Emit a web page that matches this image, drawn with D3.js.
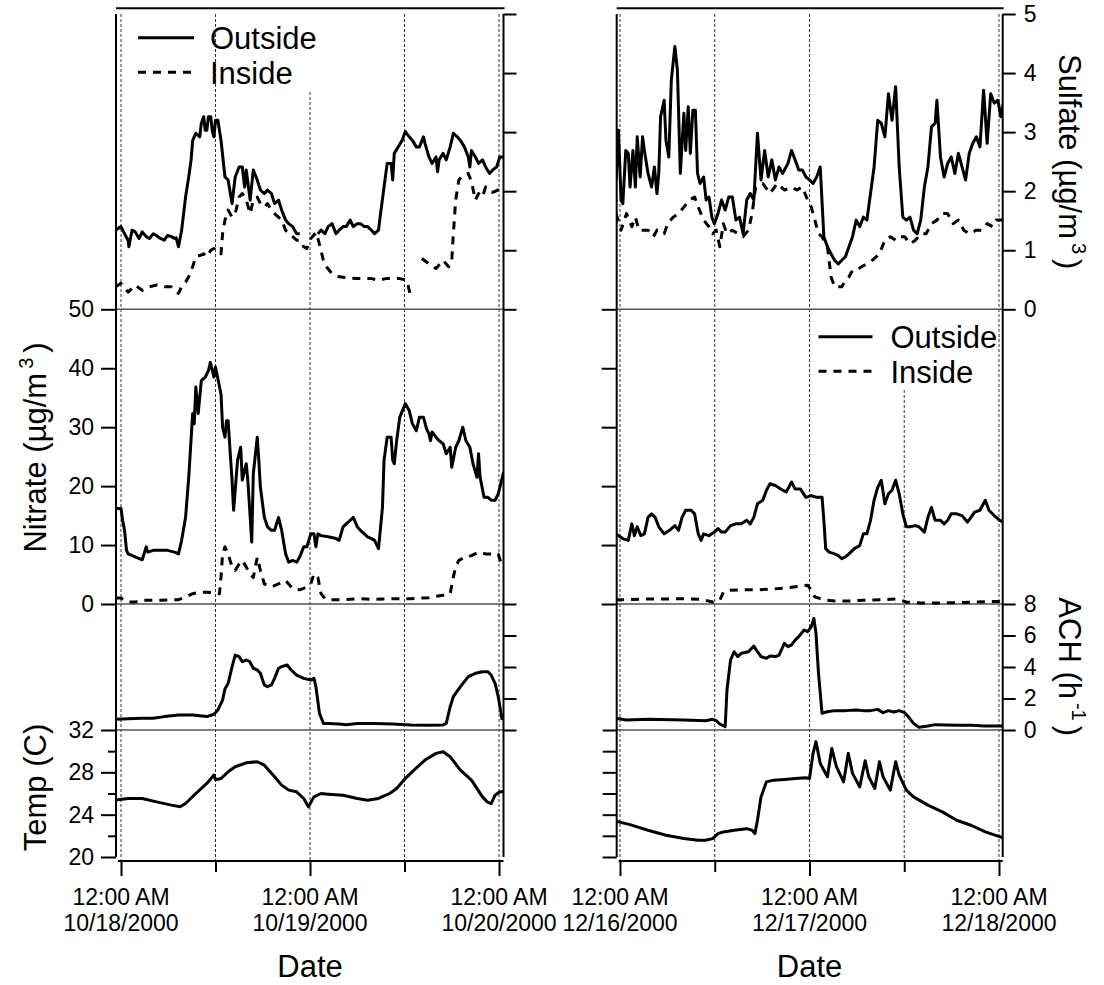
<!DOCTYPE html>
<html>
<head>
<meta charset="utf-8">
<script src="https://cdn.jsdelivr.net/npm/d3@7"></script>
<style>
  body { margin: 0; background: #fff; }
  text { font-family: "Liberation Sans", Arial, sans-serif; fill: #000; }
</style>
</head>
<body>
<svg width="1104" height="985"></svg>
<script>
const FONT = "Liberation Sans, Arial, sans-serif";

// first midnight of each period
const octStart = new Date(2000, 9, 18);
const decStart = new Date(2000, 11, 16);

// [hours after first midnight, value]; null marks a gap
const octSulfateOut = [[-0.7,1.34],[0,1.40],[0.45,1.28],[0.9,1.17],[1.0,1.06],[1.4,1.34],[1.8,1.31],[2.3,1.20],[2.7,1.31],[3.2,1.23],[3.6,1.20],[4.1,1.28],[4.5,1.25],[5.0,1.20],[5.5,1.17],[5.9,1.25],[6.4,1.23],[6.8,1.20],[7.0,1.21],[7.3,1.06],[7.7,1.34],[8.2,1.90],[8.6,2.24],[8.9,2.53],[9.1,2.86],[9.5,2.98],[10.0,2.92],[10.2,3.15],[10.5,3.26],[10.7,3.03],[10.9,3.03],[11.1,3.26],[11.4,3.26],[11.6,3.01],[11.8,2.92],[12.0,3.20],[12.3,3.20],[12.7,2.86],[13.2,2.24],[13.6,2.19],[14.1,1.79],[14.5,2.24],[15.0,2.41],[15.4,2.41],[15.7,2.07],[15.9,2.36],[16.4,1.85],[16.8,2.36],[17.3,2.19],[17.7,2.02],[18.2,1.96],[18.6,2.02],[19.1,1.96],[19.5,1.79],[20.0,1.85],[20.4,1.68],[20.9,1.51],[21.3,1.45],[21.8,1.40],[22.3,1.28],[22.7,1.28],[23.0,null],[25.0,1.28],[25.4,1.34],[25.9,1.28],[26.3,1.40],[26.8,1.45],[27.3,1.28],[27.7,1.34],[28.2,1.40],[28.6,1.40],[29.1,1.51],[29.5,1.40],[30.0,1.45],[30.4,1.45],[30.9,1.40],[31.3,1.40],[31.8,1.34],[32.2,1.28],[32.7,1.34],[32.9,1.56],[33.4,2.07],[33.8,2.47],[34.3,2.47],[34.5,2.19],[34.7,2.64],[35.2,2.75],[35.7,2.86],[36.1,3.01],[36.6,2.92],[37.0,2.86],[37.5,2.75],[37.9,2.75],[38.4,2.92],[38.6,2.81],[39.1,2.58],[39.5,2.47],[40.0,2.58],[40.2,2.33],[40.4,2.53],[40.9,2.64],[41.3,2.53],[41.8,2.75],[42.2,2.98],[42.7,2.92],[43.1,2.86],[43.6,2.75],[44.1,2.58],[44.3,2.41],[44.5,2.69],[45.0,2.58],[45.4,2.47],[45.9,2.53],[46.3,2.41],[46.8,2.30],[47.2,2.36],[47.7,2.41],[48.1,2.58],[48.6,2.58]];
const octSulfateIn = [[-0.7,0.38],[0,0.44],[0.9,0.29],[1.8,0.41],[2.7,0.32],[3.6,0.38],[4.5,0.41],[5.5,0.38],[6.4,0.38],[7.3,0.27],[7.7,0.38],[8.2,0.46],[8.6,0.55],[9.1,0.72],[9.5,0.89],[10.0,0.91],[10.5,0.94],[10.9,0.89],[11.4,1.0],[11.8,1.03],[12.3,0.94],[12.7,0.94],[12.9,1.28],[13.2,1.51],[13.6,1.68],[14.1,1.56],[14.5,1.62],[15.0,1.90],[15.4,1.96],[15.9,1.85],[16.4,1.62],[16.8,1.85],[17.3,1.90],[17.7,1.79],[18.2,1.73],[18.6,1.79],[19.1,1.68],[19.5,1.62],[20.0,1.56],[20.4,1.51],[20.9,1.34],[21.3,1.28],[21.8,1.23],[22.3,1.17],[22.7,1.17],[23.2,1.06],[23.6,1.03],[24.1,1.20],[24.8,1.30],[25.2,1.10],[25.7,0.83],[26.1,0.72],[26.8,0.60],[27.7,0.55],[29.1,0.53],[30.0,0.52],[30.9,0.52],[31.8,0.52],[32.7,0.49],[33.6,0.52],[34.5,0.52],[35.4,0.52],[36.3,0.49],[36.8,0.21],[37.5,null],[38.2,0.86],[39.1,0.77],[40.0,0.69],[40.9,0.83],[41.6,0.72],[42.0,0.83],[42.2,1.28],[42.5,1.85],[42.9,2.19],[43.4,2.27],[44.1,2.30],[44.5,2.16],[45.0,1.85],[45.4,1.96],[45.9,1.90],[46.3,2.07],[46.8,2.00],[47.2,1.98],[47.9,2.02],[48.6,1.96]];
const octNitrateOut = [[-0.7,16.2],[0,16.2],[0.2,14.2],[0.45,12.5],[0.7,9.1],[0.9,8.5],[1.8,8.0],[2.7,7.5],[3.2,9.7],[3.4,8.8],[4.1,9.1],[5.0,9.1],[5.9,9.1],[6.8,8.8],[7.3,8.5],[7.7,10.8],[8.2,14.7],[8.6,21.5],[9.1,32.3],[9.3,30.6],[9.5,36.8],[9.8,32.3],[10.0,35.1],[10.2,37.9],[10.7,38.5],[11.1,39.6],[11.35,41.0],[11.8,38.5],[12.0,40.2],[12.35,37.9],[12.7,35.6],[12.9,30.0],[13.2,28.3],[13.4,31.1],[13.6,31.1],[13.85,26.0],[14.1,21.0],[14.3,15.9],[14.8,24.4],[15.2,26.6],[15.4,21.0],[15.9,23.8],[16.1,21.0],[16.35,15.9],[16.6,10.5],[16.8,22.1],[17.3,28.3],[17.5,24.4],[17.7,19.8],[18.2,14.7],[18.6,13.1],[19.1,12.5],[19.5,12.5],[20.0,14.7],[20.4,12.5],[20.9,8.5],[21.3,7.1],[21.8,7.4],[22.3,7.1],[22.7,8.0],[23.2,9.7],[23.6,9.7],[24.1,11.9],[24.5,11.9],[24.75,9.7],[25.0,11.9],[25.4,11.6],[26.3,11.4],[27.3,11.1],[27.7,10.8],[28.2,13.1],[28.6,13.6],[29.1,14.2],[29.5,14.7],[30.0,13.1],[30.4,12.5],[30.9,11.9],[31.3,11.4],[31.8,11.1],[32.2,10.8],[32.7,9.4],[33.2,16.4],[33.4,24.4],[33.8,28.3],[34.3,28.3],[34.5,24.4],[34.7,23.8],[35.0,27.7],[35.4,31.7],[36.1,34.0],[36.6,32.8],[37.0,30.6],[37.5,29.4],[37.9,31.7],[38.4,31.7],[38.8,29.7],[39.1,28.9],[39.3,27.7],[39.5,29.2],[40.0,28.3],[40.4,27.7],[40.9,27.2],[41.3,25.5],[41.8,26.6],[42.0,23.2],[42.5,26.6],[42.9,27.7],[43.4,30.0],[43.8,27.7],[44.3,26.6],[44.7,23.8],[45.2,21.5],[45.4,25.5],[45.6,21.5],[46.1,18.1],[46.6,18.1],[47.0,17.6],[47.5,17.6],[47.9,18.7],[48.6,22.4]];
const octNitrateIn = [[-0.7,1.0],[0,1.0],[0.9,0.34],[1.8,0.34],[2.7,0.62],[5.0,0.62],[7.3,0.73],[8.2,1.2],[9.1,1.75],[10.0,2.0],[10.9,2.0],[11.8,1.9],[12.5,1.75],[12.7,4.6],[12.9,8.5],[13.2,9.7],[13.6,8.5],[14.1,6.3],[14.5,5.7],[15.0,6.8],[15.4,7.4],[15.9,6.3],[16.35,5.1],[16.8,4.5],[17.3,7.9],[17.7,5.7],[18.2,3.4],[19.1,2.9],[20.0,3.4],[20.9,4.0],[21.3,3.4],[21.8,2.6],[22.7,2.4],[23.6,2.9],[24.1,3.4],[24.5,5.1],[25.0,4.5],[25.4,1.75],[25.9,0.9],[26.3,0.73],[28.2,0.73],[30.0,0.9],[32.2,0.79],[34.5,0.9],[36.8,0.9],[39.1,1.08],[40.9,1.5],[41.8,1.75],[42.2,4.6],[42.5,6.3],[42.9,7.4],[43.6,7.9],[44.5,8.2],[45.4,8.8],[46.3,8.5],[47.0,8.5],[47.9,8.5],[48.4,6.3]];
const octAch = [[-0.7,0.68],[0.9,0.72],[2.7,0.74],[4.1,0.74],[5.5,0.85],[7.3,0.95],[9.1,0.95],[10.9,0.85],[11.8,1.0],[12.3,1.27],[12.9,1.9],[13.2,2.6],[13.6,2.96],[14.1,4.0],[14.5,4.76],[15.0,4.66],[15.4,4.34],[15.9,4.44],[16.35,4.34],[16.8,3.92],[17.3,3.81],[17.7,3.6],[18.2,2.86],[18.6,2.75],[19.1,2.86],[19.5,3.28],[20.0,3.92],[20.4,4.02],[21.1,4.13],[21.6,3.81],[22.3,3.49],[23.2,3.28],[24.1,3.17],[24.5,3.28],[24.75,2.75],[25.2,1.06],[25.7,0.42],[26.3,0.42],[27.7,0.38],[28.6,0.34],[30.0,0.42],[32.2,0.42],[34.5,0.38],[36.8,0.32],[39.1,0.30],[40.9,0.32],[41.3,0.42],[41.8,1.48],[42.2,2.12],[43.1,2.75],[44.1,3.39],[45.0,3.6],[45.9,3.7],[46.6,3.7],[47.0,3.49],[47.5,2.96],[47.9,2.12],[48.4,0.63]];
const octTemp = [[-0.7,25.37],[0.9,25.53],[2.7,25.53],[4.5,25.21],[6.4,24.9],[7.5,24.74],[8.2,25.05],[9.5,26.0],[10.9,26.95],[11.8,27.74],[12.0,27.3],[12.7,27.42],[13.6,28.05],[14.5,28.53],[15.9,28.9],[17.3,29.0],[18.2,28.68],[19.5,27.58],[20.4,26.79],[21.3,26.32],[22.3,26.16],[23.2,25.53],[23.8,24.74],[24.5,25.68],[25.4,26.0],[26.3,25.94],[28.2,25.84],[30.0,25.53],[31.3,25.37],[32.7,25.53],[34.1,26.0],[35.0,26.47],[35.9,27.26],[37.2,28.21],[38.6,29.16],[40.0,29.79],[40.9,29.95],[41.8,29.47],[43.1,28.21],[44.5,27.26],[45.9,25.68],[46.5,25.21],[47.0,25.05],[47.5,25.84],[48.1,26.16],[48.6,26.16]];

const decSulfateOut = [[-0.5,2.19],[-0.2,3.03],[0.14,1.85],[0.36,1.79],[0.73,2.69],[1.05,2.64],[1.27,2.07],[1.64,2.69],[1.95,2.07],[2.18,2.92],[2.55,2.24],[2.86,2.92],[3.09,2.69],[3.55,2.30],[4.0,2.07],[4.36,2.41],[4.68,1.96],[4.91,2.30],[5.14,3.26],[5.59,3.54],[5.82,2.86],[6.18,2.58],[6.5,3.88],[6.95,4.45],[7.27,4.05],[7.64,2.30],[8.09,3.32],[8.32,2.69],[8.64,3.43],[8.91,2.64],[9.23,3.37],[9.55,3.37],[9.82,2.30],[10.14,2.13],[10.59,2.24],[10.91,1.85],[11.27,1.90],[11.64,1.56],[11.95,1.45],[12.41,1.62],[12.86,1.85],[13.32,1.68],[13.77,1.90],[14.23,1.90],[14.68,1.51],[15.14,1.56],[15.59,1.28],[16.05,1.85],[16.5,1.96],[16.95,1.85],[17.41,2.98],[17.86,2.19],[18.32,2.69],[18.77,2.24],[19.23,2.53],[19.68,2.19],[20.14,2.41],[20.59,2.30],[21.27,2.47],[21.73,2.69],[22.18,2.53],[22.64,2.36],[23.09,2.36],[23.55,2.24],[24.0,2.19],[24.45,2.13],[24.91,2.24],[25.36,2.41],[25.82,1.23],[26.27,1.06],[26.73,0.94],[27.18,0.83],[27.64,0.77],[28.09,0.83],[28.55,0.89],[29.0,1.06],[29.45,1.23],[29.91,1.51],[30.36,1.40],[30.82,1.56],[31.27,1.51],[31.73,1.96],[32.18,2.41],[32.64,3.2],[33.09,3.15],[33.55,2.92],[34.0,3.65],[34.45,3.2],[34.91,3.77],[35.36,2.41],[35.82,1.56],[36.27,1.51],[36.73,1.56],[37.18,1.34],[37.64,1.28],[38.09,1.51],[38.55,2.07],[39.0,2.41],[39.45,3.09],[39.91,3.15],[40.14,3.54],[40.59,2.58],[41.05,2.24],[41.5,2.47],[41.95,2.58],[42.41,2.30],[42.86,2.64],[43.32,2.41],[43.77,2.19],[44.23,2.64],[44.68,2.81],[45.14,2.92],[45.59,2.75],[46.05,3.71],[46.5,2.81],[46.95,3.65],[47.41,3.49],[47.86,3.54],[48.23,3.26],[48.55,3.49]];
const decSulfateIn = [[-0.5,1.62],[0.14,1.34],[0.82,1.62],[1.5,1.40],[1.95,1.56],[2.41,1.34],[3.09,1.34],[3.55,1.34],[4.23,1.23],[4.68,1.34],[5.59,1.28],[6.05,1.45],[6.73,1.56],[7.41,1.62],[8.09,1.73],[8.77,1.85],[9.45,1.90],[9.91,1.73],[10.59,1.51],[11.27,1.40],[11.73,1.28],[12.18,1.34],[12.64,1.06],[13.09,1.45],[13.55,1.28],[14.23,1.34],[14.91,1.28],[15.59,1.23],[16.27,1.34],[16.73,1.62],[17.18,2.07],[18.09,2.13],[19.0,1.96],[19.91,2.13],[20.82,2.02],[21.73,2.07],[22.41,2.02],[23.09,2.07],[23.77,1.85],[24.23,1.73],[24.68,1.51],[25.14,1.28],[25.59,1.23],[26.27,1.06],[26.73,0.55],[27.18,0.38],[27.64,0.38],[28.09,0.38],[28.55,0.49],[29.0,0.55],[29.45,0.66],[29.91,0.66],[30.59,0.72],[31.27,0.77],[31.95,0.83],[32.86,0.94],[33.55,1.17],[34.23,1.23],[34.91,1.17],[35.36,1.23],[36.05,1.23],[36.73,1.11],[37.41,1.17],[38.09,1.28],[38.77,1.28],[39.45,1.45],[40.14,1.51],[40.82,1.62],[41.5,1.62],[42.18,1.45],[42.86,1.51],[43.55,1.34],[44.23,1.28],[45.14,1.34],[45.82,1.34],[46.5,1.45],[47.18,1.40],[47.64,1.51],[48.55,1.51]];
const decNitrateOut = [[-0.5,11.9],[0.36,11.1],[1.05,10.8],[1.5,13.6],[1.82,11.6],[2.18,13.1],[2.64,11.6],[3.09,11.9],[3.55,14.7],[4.0,15.3],[4.45,14.7],[4.91,13.1],[5.59,11.9],[6.27,12.5],[6.95,13.3],[7.41,12.5],[7.86,14.7],[8.32,15.9],[9.0,15.9],[9.45,15.3],[9.91,11.9],[10.27,10.8],[10.59,11.9],[11.27,11.6],[11.95,12.2],[12.41,12.8],[12.86,12.2],[13.32,12.2],[14.0,13.3],[14.68,13.6],[15.36,13.6],[16.05,14.2],[16.5,13.6],[16.95,14.7],[17.41,17.0],[18.09,17.6],[18.55,19.3],[19.0,20.4],[19.68,20.1],[20.36,19.5],[21.05,19.0],[21.73,20.7],[22.18,19.5],[22.86,19.5],[23.55,18.1],[24.23,18.4],[24.91,18.1],[25.59,18.1],[25.82,14.2],[26.05,9.4],[26.5,8.8],[27.18,8.5],[27.64,8.2],[28.09,7.7],[28.55,8.0],[29.0,8.5],[29.68,9.4],[30.36,9.9],[30.82,11.9],[31.27,11.9],[31.73,14.2],[32.18,17.6],[32.64,19.8],[33.09,21.0],[33.55,17.0],[34.0,18.7],[34.45,19.3],[34.91,21.0],[35.36,18.7],[35.82,15.3],[36.27,13.1],[36.73,13.1],[37.41,13.3],[37.86,13.1],[38.55,12.2],[39.0,14.7],[39.45,16.4],[39.91,14.2],[40.59,14.2],[41.05,13.6],[41.5,14.2],[41.95,15.3],[42.64,15.3],[43.32,15.0],[44.0,13.9],[44.45,14.7],[44.91,15.6],[45.59,15.9],[46.27,17.6],[46.73,15.9],[47.41,15.0],[48.09,14.2],[48.55,13.9]];
const decNitrateIn = [[-0.5,0.73],[0.82,0.73],[3.55,0.85],[5.82,0.85],[8.09,0.9],[10.36,0.79],[11.73,0.34],[12.64,0.62],[13.09,2.0],[13.55,2.3],[15.36,2.4],[17.18,2.4],[19.0,2.5],[20.82,2.7],[22.64,3.0],[23.77,3.2],[24.23,2.3],[24.68,1.2],[25.36,0.9],[26.27,0.62],[27.18,0.51],[29.0,0.51],[30.82,0.62],[33.09,0.73],[34.91,0.85],[35.36,0.73],[36.27,0.34],[38.09,0.17],[39.91,0.17],[42.18,0.23],[44.45,0.28],[46.73,0.4],[48.55,0.45]];
const decAch = [[-0.5,0.74],[0.82,0.63],[3.55,0.68],[8.09,0.63],[10.82,0.59],[11.73,0.68],[12.18,0.59],[12.64,0.38],[13.32,0.21],[13.55,2.54],[14.0,4.44],[14.45,4.97],[14.91,4.66],[15.36,4.87],[15.82,4.92],[16.27,4.97],[16.95,5.33],[17.41,4.97],[17.86,4.66],[18.55,4.55],[19.0,4.7],[19.68,4.66],[20.14,4.76],[20.82,5.5],[21.27,5.29],[21.73,5.4],[22.18,5.71],[22.64,5.93],[23.32,6.35],[23.77,6.24],[24.23,6.56],[24.55,7.09],[24.82,6.14],[25.14,3.6],[25.59,1.06],[26.27,1.16],[27.18,1.23],[28.55,1.23],[29.91,1.27],[30.82,1.23],[31.73,1.23],[32.64,1.31],[33.32,1.1],[34.0,1.23],[34.68,1.14],[35.36,1.23],[36.05,1.1],[36.5,0.85],[37.18,0.42],[37.86,0.17],[39.0,0.25],[39.91,0.34],[41.27,0.32],[42.64,0.3],[44.45,0.3],[46.27,0.25],[48.55,0.25]];
const decTemp = [[-0.5,23.38],[1.27,23.06],[3.55,22.53],[5.82,22.05],[8.09,21.74],[9.91,21.58],[10.82,21.58],[11.73,21.74],[12.41,22.21],[13.09,22.37],[14.45,22.53],[16.05,22.68],[16.73,22.53],[17.09,22.21],[17.41,23.47],[17.86,25.68],[18.55,27.1],[19.45,27.26],[20.82,27.33],[22.18,27.42],[23.55,27.48],[24.0,27.42],[24.45,29.79],[24.82,30.9],[25.36,28.84],[26.27,27.58],[26.82,30.26],[27.41,28.53],[28.32,27.1],[28.91,29.79],[29.45,27.9],[30.36,26.63],[31.05,29.1],[31.5,27.58],[32.27,26.47],[32.86,29.0],[33.32,27.58],[34.23,26.32],[34.91,29.0],[35.36,27.74],[36.27,26.32],[37.18,25.68],[39.0,24.9],[40.82,24.26],[42.64,23.47],[44.45,23.0],[46.27,22.37],[48.55,21.8]];

const seriesNames = ["Outside", "Inside"];
const gridHours = [0, 12, 24, 36, 48];
const labelHours = [0, 24, 48];

// vertical layout of the stacked panels
const panels = {
  sulfate: { domain: [0, 5], range: [309.3, 14] },
  nitrate: { domain: [0, 50], range: [604, 309.3] },
  ach: { domain: [0, 8], range: [730, 604] },
  temp: { domain: [20, 32], range: [857, 730] }
};
const yTop = 14, yBottom = 857, xAxisY = 861;

const cols = [
  { start: octStart, hours: [-0.635, 48.57], px: [116, 503.5],
    sulfate: [octSulfateOut, octSulfateIn], nitrate: [octNitrateOut, octNitrateIn],
    ach: octAch, temp: octTemp, legend: { x: 138, y: 37.7, len: 56 }, gridGap: { h: 24, y: 92 } },
  { start: decStart, hours: [-0.418, 48.47], px: [616.7, 1002.7],
    sulfate: [decSulfateOut, decSulfateIn], nitrate: [decNitrateOut, decNitrateIn],
    ach: decAch, temp: decTemp, legend: { x: 818.5, y: 336.7, len: 54 }, gridGap: { h: 36, y: 390 } }
];

const svg = d3.select("svg");
const y = {};
for (const k in panels) y[k] = d3.scaleLinear().domain(panels[k].domain).range(panels[k].range);

const fmtTime = d3.timeFormat("%-I:%M %p");
const fmtDate = d3.timeFormat("%m/%d/%Y");

function styleAxis(g, labelled) {
  g.attr("font-size", 23).attr("font-family", FONT);
  g.select(".domain").remove();
  g.selectAll(".tick line").attr("stroke", "#000").attr("stroke-width", 2);
  if (!labelled) g.selectAll(".tick text").remove();
}

cols.forEach(function (c, ci) {
  const toDate = h => new Date(c.start.getTime() + h * 3600e3);
  const x = d3.scaleTime().domain(c.hours.map(toDate)).range(c.px);
  const x0 = c.px[0], x1 = c.px[1];
  const g = svg.append("g");

  g.append("clipPath").attr("id", "clip" + ci)
    .append("rect").attr("x", x0).attr("y", 0).attr("width", x1 - x0).attr("height", xAxisY);

  // dotted vertical lines at midnight / noon
  g.append("g").selectAll("line").data(gridHours).enter().append("line")
    .attr("x1", h => x(toDate(h))).attr("x2", h => x(toDate(h)))
    .attr("y1", h => h === c.gridGap.h ? c.gridGap.y : yTop).attr("y2", xAxisY)
    .attr("stroke", "#333").attr("stroke-width", 1).attr("stroke-dasharray", "3,2");

  // separators between stacked panels
  [309.3, 604, 730].forEach(function (yy) {
    g.append("line").attr("x1", x0).attr("x2", x1).attr("y1", yy).attr("y2", yy)
      .attr("stroke", "#555").attr("stroke-width", 1.4);
  });

  // frame: top line, left and right axes
  g.append("line").attr("x1", x0).attr("x2", x1 + 1).attr("y1", 8.3).attr("y2", 8.3)
    .attr("stroke", "#000").attr("stroke-width", 2);
  [x0, x1].forEach(function (xx) {
    g.append("line").attr("x1", xx).attr("x2", xx).attr("y1", yTop).attr("y2", yBottom)
      .attr("stroke", "#000").attr("stroke-width", 2);
  });

  const left = ci === 0;
  const intFmt = d3.format("d");
  const L = (scale, vals, size) => d3.axisLeft(scale).tickValues(vals).tickSize(size).tickPadding(7).tickFormat(intFmt);
  const R = (scale, vals, size) => d3.axisRight(scale).tickValues(vals).tickSize(size).tickPadding(8).tickFormat(intFmt);

  // sulfate (right axis)
  g.append("g").attr("transform", `translate(${x1},0)`)
    .call(R(y.sulfate, [0, 1, 2, 3, 4, 5], 13)).call(s => styleAxis(s, !left));
  // nitrate (left axis)
  g.append("g").attr("transform", `translate(${x0},0)`)
    .call(L(y.nitrate, [0, 10, 20, 30, 40, 50], 15)).call(s => styleAxis(s, left));
  // ACH (right axis)
  g.append("g").attr("transform", `translate(${x1},0)`)
    .call(R(y.ach, [0, 2, 4, 6, 8], 13)).call(s => styleAxis(s, !left));
  // temperature (left axis)
  if (left) {
    g.append("g").attr("transform", `translate(${x0},0)`)
      .call(L(y.temp, [20, 24, 28, 32], 15)).call(s => styleAxis(s, true));
    g.append("g").attr("transform", `translate(${x0},0)`)
      .call(L(y.temp, [22, 26, 30], 8)).call(s => styleAxis(s, false));
  } else {
    g.append("g").attr("transform", `translate(${x0},0)`)
      .call(L(y.temp, [20, 22, 24, 26, 28, 30, 32], 14)).call(s => styleAxis(s, false));
  }

  // bottom time axis
  g.append("line").attr("x1", x0 + 2).attr("x2", x1).attr("y1", xAxisY).attr("y2", xAxisY)
    .attr("stroke", "#000").attr("stroke-width", 2);
  g.append("g").attr("transform", `translate(0,${xAxisY})`)
    .call(d3.axisBottom(x).tickValues(labelHours.map(toDate)).tickSize(15)).call(s => styleAxis(s, false));
  g.append("g").attr("transform", `translate(0,${xAxisY})`)
    .call(d3.axisBottom(x).tickValues([12, 36].map(toDate)).tickSize(11)).call(s => styleAxis(s, false));
  const lab = g.append("g").attr("font-size", 23).attr("text-anchor", "middle");
  labelHours.forEach(function (h) {
    const d = toDate(h);
    lab.append("text").attr("x", x(d)).attr("y", 905).text(fmtTime(d));
    lab.append("text").attr("x", x(d)).attr("y", 931).text(fmtDate(d));
  });
  g.append("text").attr("x", x(toDate(24))).attr("y", 977).attr("text-anchor", "middle")
    .attr("font-size", 31).text("Date");

  // data
  const plot = g.append("g").attr("clip-path", `url(#clip${ci})`)
    .attr("fill", "none").attr("stroke", "#000").attr("stroke-width", 3).attr("stroke-linejoin", "round");
  const lineFor = ys => d3.line().defined(d => d[1] != null)
    .x(d => x(toDate(d[0]))).y(d => ys(d[1]));
  ["sulfate", "nitrate"].forEach(function (k) {
    plot.append("path").attr("d", lineFor(y[k])(c[k][0]));
    plot.append("path").attr("d", lineFor(y[k])(c[k][1])).attr("stroke-dasharray", "8,7");
  });
  plot.append("path").attr("d", lineFor(y.ach)(c.ach));
  plot.append("path").attr("d", lineFor(y.temp)(c.temp));

  // legend
  const lg = g.append("g");
  seriesNames.forEach(function (name, i) {
    const ly = c.legend.y + i * 34.5;
    lg.append("line").attr("x1", c.legend.x).attr("x2", c.legend.x + c.legend.len)
      .attr("y1", ly).attr("y2", ly).attr("stroke", "#000").attr("stroke-width", 3)
      .attr("stroke-dasharray", i ? "8,7" : null);
    lg.append("text").attr("x", c.legend.x + 72).attr("y", ly + 11.5)
      .attr("font-size", 31).text(name);
  });
});

// axis titles
function title(tx, ty, rot, main, sup, tail) {
  const t = svg.append("text").attr("transform", `translate(${tx},${ty}) rotate(${rot})`)
    .attr("text-anchor", "middle").attr("font-size", 31);
  t.append("tspan").text(main);
  t.append("tspan").attr("font-size", 20).attr("dx", 4).attr("dy", -13).text(sup);
  t.append("tspan").attr("dx", 5).attr("dy", 13).text(tail);
}
title(46, 447.5, -90, "Nitrate (\u00b5g/m", "3", ")");
svg.append("text").attr("transform", "translate(46,787.5) rotate(-90)")
  .attr("text-anchor", "middle").attr("font-size", 31).text("Temp (C)");
title(1059, 161.7, 90, "Sulfate (\u00b5g/m", "3", ")");
title(1059, 666.7, 90, "ACH (h", "-1", ")");
</script>
</body>
</html>
